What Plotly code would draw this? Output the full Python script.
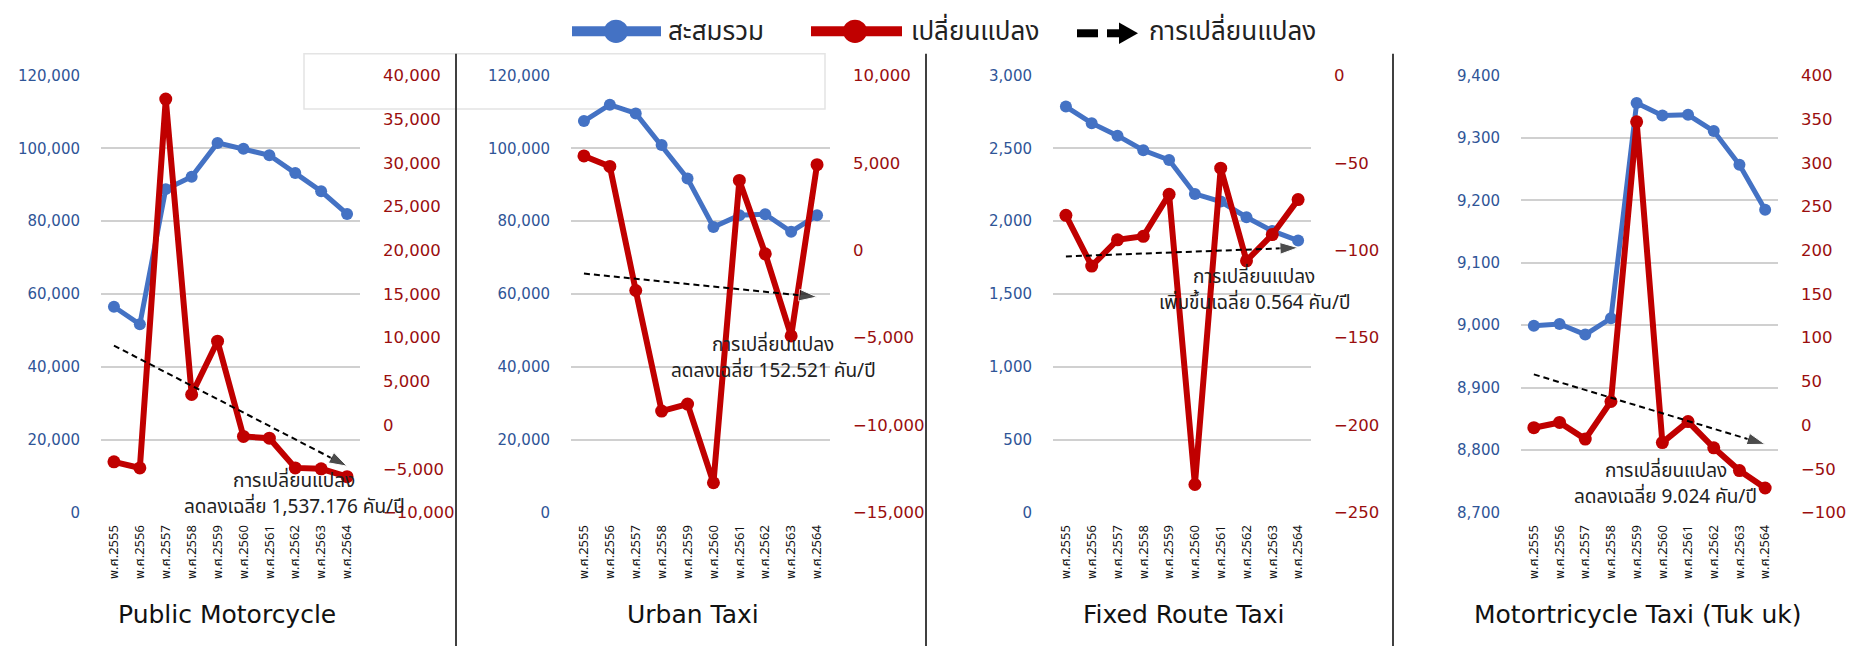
import plotly.graph_objects as go

W, H = 1858, 656

years = ["พ.ศ.2555", "พ.ศ.2556", "พ.ศ.2557", "พ.ศ.2558", "พ.ศ.2559",
         "พ.ศ.2560", "พ.ศ.2561", "พ.ศ.2562", "พ.ศ.2563", "พ.ศ.2564"]

titles = ["Public Motorcycle", "Urban Taxi", "Fixed Route Taxi", "Motortricycle Taxi (Tuk uk)"]

pm_total = [56500, 51700, 88800, 92200, 101500, 99900, 98100, 93200, 88200, 82000]
pm_change = [-4200, -4900, 37300, 3500, 9600, -1300, -1500, -4900, -5000, -5900]

ut_total = [107500, 112000, 109600, 100900, 91700, 78400, 81600, 81900, 77100, 81600]
ut_change = [5400, 4800, -2300, -9200, -8800, -13300, 4000, -200, -4900, 4900]

fr_total = [2787, 2673, 2587, 2487, 2420, 2187, 2135, 2027, 1933, 1867]
fr_change = [-80, -109, -94, -92, -68, -234, -53, -106, -91, -71]

tt_total = [8999, 9002, 8985, 9011, 9356, 9336, 9337, 9311, 9257, 9185]
tt_change = [-3, 3, -16, 27, 347, -20, 4, -26, -52, -72]

trend_start = [9100, -1330, -103.5, 58]
trend_end = [-4700, -2670, -98.5, -22]

trend_line1 = ["การเปลี่ยนแปลง"] * 4
trend_line2 = ["ลดลงเฉลี่ย 1,537.176 คัน/ปี", "ลดลงเฉลี่ย 152.521 คัน/ปี",
               "เพิ่มขึ้นเฉลี่ย 0.564 คัน/ปี", "ลดลงเฉลี่ย 9.024 คัน/ปี"]

left_ranges = [(0, 120000, 20000), (0, 120000, 20000), (0, 3000, 500), (8700, 9400, 100)]
right_ranges = [(-10000, 40000, 5000), (-15000, 10000, 5000), (-250, 0, 50), (-100, 400, 50)]

totals = [pm_total, ut_total, fr_total, tt_total]
changes = [pm_change, ut_change, fr_change, tt_change]

legend_names = ["สะสมรวม", "เปลี่ยนแปลง", "การเปลี่ยนแปลง"]

BLUE = "#4472C4"
RED = "#C00000"
BLUE_TXT = "#2F5597"
RED_TXT = "#9A0E0E"
THAI = "Tahoma, 'Noto Sans Thai', 'Leelawadee UI', sans-serif"
NUM = "'DejaVu Sans', Verdana, sans-serif"

# layout geometry (pixels)
plot_x = [(101, 360), (571, 830), (1053, 1311), (1521, 1778)]
plot_top, plot_bot = 68.5, 518.5
ann_pos = [((294, 487), (294, 513)), ((773, 347), (773, 373)),
           ((1254, 276), (1254, 303)), ((1666, 476), (1665, 503))]
title_x = [227, 693, 1183, 1638]
title_y = 624


def px(x):
    return x / W


def py(y):
    return 1 - y / H


fig = go.Figure()
layout = dict(width=W, height=H, margin=dict(l=0, r=0, t=0, b=0),
              paper_bgcolor="white", plot_bgcolor="rgba(0,0,0,0)",
              showlegend=False)
annotations = []
shapes = []

for i in range(4):
    n = i + 1
    xa = "x" if n == 1 else f"x{n}"
    ya = "y" if n == 1 else f"y{n}"
    yr_n = n + 4
    yr = f"y{yr_n}"
    lo, hi, dt = left_ranges[i]
    rlo, rhi, rdt = right_ranges[i]
    layout["xaxis" if n == 1 else f"xaxis{n}"] = dict(
        domain=[px(plot_x[i][0]), px(plot_x[i][1])], anchor=ya,
        type="category", range=[-0.5, 9.5], showgrid=False, showline=False,
        zeroline=False, ticks="", tickangle=-90, ticklabelstandoff=9,
        tickfont=dict(family=THAI, size=13, color="#111111"))
    layout["yaxis" if n == 1 else f"yaxis{n}"] = dict(
        domain=[py(plot_bot), py(plot_top)], anchor=xa, range=[lo, hi],
        tickmode="linear", tick0=lo, dtick=dt, showgrid=True,
        gridcolor="#D0D0D0", gridwidth=1.5, zeroline=False, showline=False,
        ticks="", tickformat=",d", ticklabelstandoff=20,
        tickfont=dict(family=NUM, size=15, color=BLUE_TXT))
    layout[f"yaxis{yr_n}"] = dict(
        overlaying=ya, side="right", anchor=xa, range=[rlo, rhi],
        tickmode="linear", tick0=rlo, dtick=rdt, showgrid=False,
        zeroline=False, showline=False, ticks="", tickformat=",d",
        ticklabelstandoff=22,
        tickfont=dict(family=NUM, size=16.5, color=RED_TXT))

    fig.add_trace(go.Scatter(x=years, y=totals[i], xaxis=xa, yaxis=ya,
                             mode="lines+markers", name=legend_names[0],
                             line=dict(color=BLUE, width=5),
                             marker=dict(color=BLUE, size=12)))
    fig.add_trace(go.Scatter(x=years, y=changes[i], xaxis=xa, yaxis=yr,
                             mode="lines+markers", name=legend_names[1],
                             line=dict(color=RED, width=6),
                             marker=dict(color=RED, size=13)))
    fig.add_trace(go.Scatter(x=[years[0], years[-1]], y=[trend_start[i], trend_end[i]],
                             xaxis=xa, yaxis=yr, mode="lines+markers",
                             name=legend_names[2],
                             line=dict(color="black", width=2, dash="6px,4px"),
                             marker=dict(symbol=["circle", "arrow"], size=[0, 19],
                                         angleref="previous", color="black")))

    (l1x, l1y), (l2x, l2y) = ann_pos[i]
    annotations.append(dict(x=px(l1x), y=py(l1y), xref="paper", yref="paper",
                            text=trend_line1[i], showarrow=False,
                            xanchor="center", yanchor="middle",
                            font=dict(family=THAI, size=19, color="#222222")))
    annotations.append(dict(x=px(l2x), y=py(l2y), xref="paper", yref="paper",
                            text=trend_line2[i], showarrow=False,
                            xanchor="center", yanchor="middle",
                            font=dict(family=THAI, size=19, color="#222222")))
    annotations.append(dict(x=px(title_x[i]), y=py(title_y), xref="paper", yref="paper",
                            text=titles[i], showarrow=False,
                            xanchor="center", yanchor="middle",
                            font=dict(family="'DejaVu Sans', sans-serif", size=25,
                                      color="#111111")))

# faint box (legend artifact)
shapes.append(dict(type="rect", xref="paper", yref="paper",
                   x0=px(304), x1=px(825), y0=py(103), y1=py(46),
                   line=dict(color="#E4E4E4", width=1.5), fillcolor="rgba(0,0,0,0)",
                   layer="below"))

# separators
for sx in [456, 926, 1393]:
    shapes.append(dict(type="line", xref="paper", yref="paper",
                       x0=px(sx), x1=px(sx), y0=py(46), y1=py(656),
                       line=dict(color="#404040", width=2)))

# custom legend
LY = 23


def legend_line_marker(x0, x1, xc, color):
    shapes.append(dict(type="line", xref="paper", yref="paper",
                       x0=px(x0), x1=px(x1), y0=py(LY), y1=py(LY),
                       line=dict(color=color, width=10)))
    shapes.append(dict(type="circle", xref="paper", yref="paper",
                       x0=px(xc - 12), x1=px(xc + 12), y0=py(LY + 12), y1=py(LY - 12),
                       line=dict(color=color, width=0), fillcolor=color))


legend_line_marker(572, 661, 616, BLUE)
legend_line_marker(811, 902, 855, RED)
shapes.append(dict(type="line", xref="paper", yref="paper",
                   x0=px(1077), x1=px(1098), y0=py(LY + 2), y1=py(LY + 2),
                   line=dict(color="black", width=8)))
shapes.append(dict(type="line", xref="paper", yref="paper",
                   x0=px(1107), x1=px(1122), y0=py(LY + 2), y1=py(LY + 2),
                   line=dict(color="black", width=8)))
shapes.append(dict(type="path", xref="paper", yref="paper",
                   path=f"M {px(1119)},{py(LY - 9)} L {px(1138)},{py(LY + 2)} L {px(1119)},{py(LY + 13)} Z",
                   fillcolor="black", line=dict(color="black", width=0)))

for tx, name in zip([666, 909, 1147], legend_names):
    annotations.append(dict(x=px(tx), y=py(LY + 1), xref="paper", yref="paper",
                            text=name, showarrow=False, xanchor="left",
                            yanchor="middle",
                            font=dict(family=THAI, size=26, color="#222222")))

layout["annotations"] = annotations
layout["shapes"] = shapes
fig.update_layout(**layout)

fig.write_html("out.html", config={"displayModeBar": False},
               post_script="document.body.style.margin='0';document.body.style.overflow='hidden';")
